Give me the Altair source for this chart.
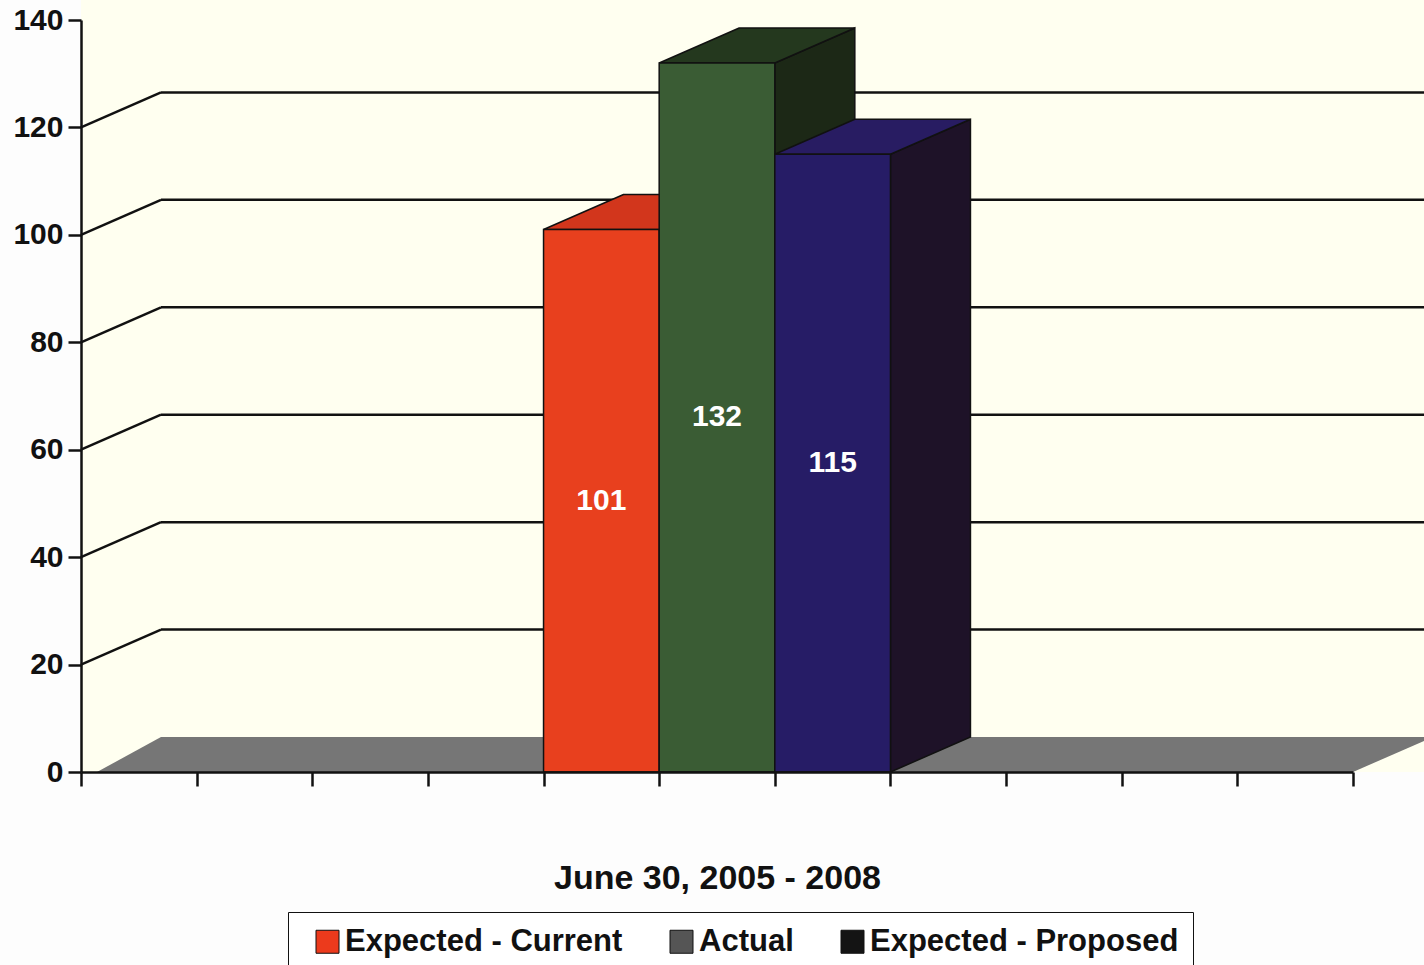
import altair as alt
import pandas as pd

# ---- values ---------------------------------------------------------------
series = ["Expected - Current", "Actual", "Expected - Proposed"]
values = [101, 132, 115]

front_colors = ["#E8401E", "#3A5C34", "#261C66"]
top_colors = ["#D2361C", "#24381E", "#281C62"]
side_colors = ["#B02A14", "#1C2816", "#1E1228"]
legend_colors = ["#EC3A1C", "#555555", "#141414"]

y_ticks = [0, 20, 40, 60, 80, 100, 120, 140]
grid_levels = [20, 40, 60, 80, 100, 120]
x_title = "June 30, 2005 - 2008"

# ---- layout / style -------------------------------------------------------
N_SLOTS = 11          # column slots along the category axis
FIRST_SLOT = 4        # slot where the first column starts
W, H = 1272, 752      # plot area in pixels
Y_MAX = 140
DEPTH_X_PX, DEPTH_Y_PX = 80, 35   # 3-D depth offset in pixels
dx = DEPTH_X_PX * N_SLOTS / W     # depth offset in x units
dy = DEPTH_Y_PX * Y_MAX / H       # depth offset in y units
FLOOR_INSET = 16 * N_SLOTS / W    # floor's front-left corner sits a bit right of the axis
FAR_X = N_SLOTS + 2               # beyond the right edge
FONT = "Liberation Sans"
INK = "#111111"

x_scale = alt.Scale(domain=[0, N_SLOTS], nice=False, zero=False)
y_scale = alt.Scale(domain=[0, Y_MAX], nice=False)

x_axis = alt.Axis(
    values=list(range(N_SLOTS + 1)), labels=False, grid=False,
    tickSize=14, tickWidth=2.5, tickColor=INK,
    domainColor=INK, domainWidth=2.5, zindex=1,
    title=x_title, titleFont=FONT, titleFontSize=34, titleFontWeight="bold",
    titleColor=INK, titlePadding=74,
)
y_axis = alt.Axis(
    values=y_ticks, grid=False, tickSize=13, tickWidth=2.5, tickColor=INK,
    domainColor=INK, domainWidth=2.5, zindex=1,
    labelFont=FONT, labelFontSize=30, labelFontWeight="bold", labelColor=INK,
    labelPadding=5, title=None,
)


def X(field):
    return alt.X(f"{field}:Q", scale=x_scale, axis=x_axis)


def Y(field):
    return alt.Y(f"{field}:Q", scale=y_scale, axis=y_axis)


# ---- tables built from the arrays ------------------------------------------
bars = pd.DataFrame({
    "series": series,
    "v": values,
    "x0": [FIRST_SLOT + i for i in range(len(series))],
    "x1": [FIRST_SLOT + i + 1 for i in range(len(series))],
    "front": front_colors,
})
bars["base"] = 0
bars["mid_x"] = bars["x0"] + 0.5
bars["mid_y"] = bars["v"] / 2

side_rows, top_rows = [], []
for s, v, x0, x1, tc, sc in zip(series, values, bars["x0"], bars["x1"],
                                top_colors, side_colors):
    side_rows.append({"series": s, "x": x1, "y": 0, "y2": v, "fill": sc})
    side_rows.append({"series": s, "x": x1 + dx, "y": dy, "y2": v + dy, "fill": sc})
    top_rows.append({"series": s, "y": v, "x": x0, "x2": x1, "fill": tc})
    top_rows.append({"series": s, "y": v + dy, "x": x0 + dx, "x2": x1 + dx, "fill": tc})
sides = pd.DataFrame(side_rows)
tops = pd.DataFrame(top_rows)

wall = pd.DataFrame({"x": [0], "x2": [FAR_X], "y": [0], "y2": [Y_MAX + 10]})
floor = pd.DataFrame({"y": [0, dy], "x": [FLOOR_INSET, dx],
                      "x2": [N_SLOTS, N_SLOTS + dx]})
back_grid = pd.DataFrame({"x": dx, "x2": FAR_X, "y": [g + dy for g in grid_levels]})
side_grid = pd.DataFrame({"x": 0, "x2": dx, "y": grid_levels,
                          "y2": [g + dy for g in grid_levels]})

# ---- layers -----------------------------------------------------------------
wall_layer = alt.Chart(wall).mark_rect(color="#FFFFF0").encode(
    x=X("x"), x2="x2", y=Y("y"), y2="y2")

floor_layer = alt.Chart(floor).mark_area(orient="horizontal", color="#767676").encode(
    y=Y("y"), x=X("x"), x2="x2")

back_grid_layer = alt.Chart(back_grid).mark_rule(color=INK, strokeWidth=2.5).encode(
    x=X("x"), x2="x2", y=Y("y"))

side_grid_layer = alt.Chart(side_grid).mark_rule(color=INK, strokeWidth=2.5).encode(
    x=X("x"), x2="x2", y=Y("y"), y2="y2")

side_layer = alt.Chart(sides).mark_area(
    orient="vertical", stroke=INK, strokeWidth=1.5).encode(
    x=X("x"), y=Y("y"), y2="y2", detail="series:N",
    color=alt.Color("fill:N", scale=None))

top_layer = alt.Chart(tops).mark_area(
    orient="horizontal", stroke=INK, strokeWidth=1.5).encode(
    y=Y("y"), x=X("x"), x2="x2", detail="series:N",
    color=alt.Color("fill:N", scale=None))

front_layer = alt.Chart(bars).mark_rect(stroke=INK, strokeWidth=1.5).encode(
    x=X("x0"), x2="x1", y=Y("base"), y2="v",
    color=alt.Color("front:N", scale=None))

label_layer = alt.Chart(bars).mark_text(
    font=FONT, fontSize=30, fontWeight="bold", color="white").encode(
    x=X("mid_x"), y=Y("mid_y"), text="v:Q")

legend_layer = alt.Chart(bars).mark_square(opacity=0, size=10).encode(
    x=X("mid_x"), y=Y("mid_y"),
    color=alt.Color(
        "series:N",
        scale=alt.Scale(domain=series, range=legend_colors),
        legend=alt.Legend(
            orient="none", legendX=207, legendY=892, direction="horizontal",
            title=None, symbolType="square", symbolSize=529, symbolOpacity=1,
            symbolStrokeColor="#222222", symbolStrokeWidth=1,
            symbolOffset=10, labelOffset=2, columnPadding=33,
            labelFont=FONT, labelFontSize=31, labelFontWeight="bold",
            labelColor=INK, labelLimit=0,
            strokeColor=INK, fillColor="white", padding=14,
        ),
    ),
)

chart = alt.layer(
    wall_layer, back_grid_layer, side_grid_layer, floor_layer,
    side_layer, top_layer, front_layer, label_layer, legend_layer,
).properties(
    width=W, height=H,
    autosize=alt.AutoSizeParams(type="none"),
    padding={"left": 81, "top": 20, "right": 71, "bottom": 193},
    background="#FDFDFD",
).configure_view(stroke=None)

chart.save("out.html", embed_options={"renderer": "svg", "actions": False})
